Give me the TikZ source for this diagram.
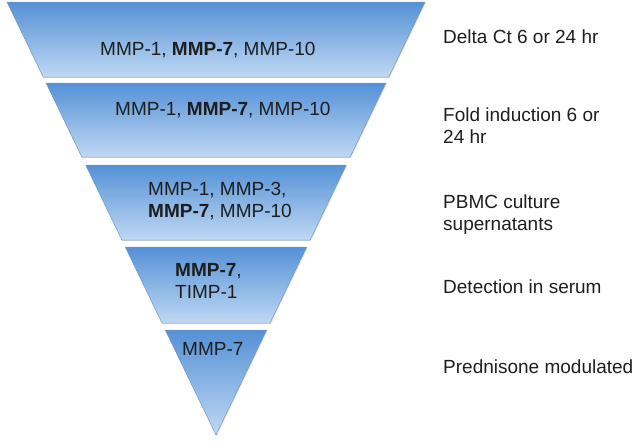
\documentclass[tikz,border=0pt]{standalone}
\usepackage{fontspec}
\setmainfont{Liberation Sans}
\usetikzlibrary{shadows}
\definecolor{bandtop}{RGB}{84,145,214}
\definecolor{bandbot}{RGB}{192,216,243}
\definecolor{bandline}{RGB}{120,150,185}
\definecolor{ink}{RGB}{30,30,30}
\tikzset{
  band/.style={draw=bandline, line width=0.5pt, top color=bandtop, bottom color=bandbot,
    drop shadow={opacity=0.2, shadow xshift=0.8pt, shadow yshift=-1.2pt}},
  lab/.style={anchor=base west, inner sep=0pt, text=ink, align=left, font=\fontsize{19}{22}\selectfont},
}
\begin{document}
\begin{tikzpicture}[x=1pt, y=-1pt]
  \useasboundingbox (0,0) rectangle (633,447);
  % bands of the funnel, half width shrinks with depth
  \foreach \t/\b in {2/77, 83/157, 165/240, 247/323}{
    \pgfmathsetmacro\wt{209-(\t-2)*0.4827}
    \pgfmathsetmacro\wb{209-(\b-2)*0.4827}
    \path[band] (216-\wt,\t) -- (216+\wt,\t) -- (216+\wb,\b) -- (216-\wb,\b) -- cycle;
  }
  \path[band] (165.3,330) -- (266.7,330) -- (216,435) -- cycle;
  % markers in each band (two-line nodes sit on their last line)
  \node[lab] (g1) at (100,55) {MMP-1, \textbf{MMP-7}, MMP-10};
  \node[lab] (g2) at (115,115) {MMP-1, \textbf{MMP-7}, MMP-10};
  \node[lab] (g3) at (148,217) {MMP-1, MMP-3,\\\textbf{MMP-7}, MMP-10};
  \node[lab] (g4) at (175,298) {\textbf{MMP-7},\\TIMP-1};
  \node[lab] (g5) at (182,355) {MMP-7};
  % criteria on the right
  \node[lab] (ct)    at (443,43)  {Delta Ct 6 or 24 hr};
  \node[lab] (fold)  at (443,143) {Fold induction 6 or\\24 hr};
  \node[lab] (pbmc)  at (443,230) {PBMC culture\\supernatants};
  \node[lab] (serum) at (443,293) {Detection in serum};
  \node[lab] (pred)  at (443,373) {Prednisone modulated};
\end{tikzpicture}
\end{document}
